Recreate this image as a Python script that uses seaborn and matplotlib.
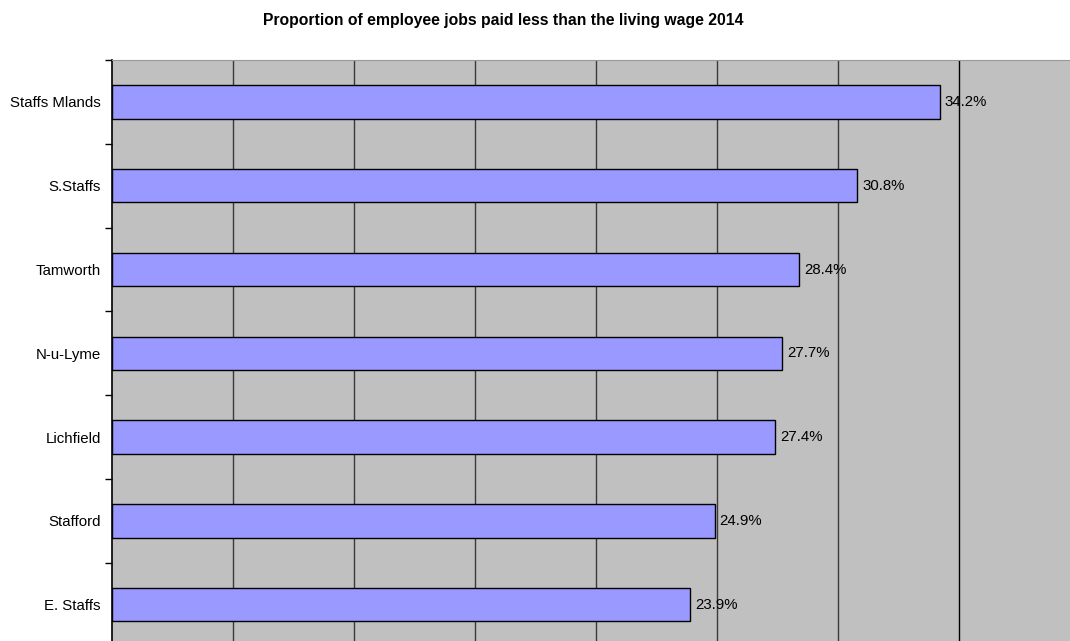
import matplotlib
matplotlib.use("Agg")
import matplotlib.pyplot as plt
import seaborn as sns
import pandas as pd
import numpy as np

# values
areas = ["Staffs Mlands", "S.Staffs", "Tamworth", "N-u-Lyme", "Lichfield", "Stafford", "E. Staffs"]
pct = [34.2, 30.8, 28.4, 27.7, 27.4, 24.9, 23.9]

df = pd.DataFrame({"area": areas, "pct": pct})

sns.set_style("white")
plt.rcParams['font.family'] = ['Liberation Sans', 'DejaVu Sans']
plt.rcParams['text.color'] = 'black'
plt.rcParams['ytick.labelcolor'] = 'black'

fig = plt.figure(figsize=(10.7, 6.41), dpi=100)
ax = fig.add_axes([112 / 1070, 1 - 646.6 / 641, 968 / 1070, 586.6 / 641])
ax.set_facecolor("#C0C0C0")

sns.barplot(data=df, x="pct", y="area", orient="h", color="#9999FF",
            saturation=1, width=0.4, edgecolor="black", linewidth=1, ax=ax, zorder=3)

ax.set_xlim(0, 40)
ax.set_ylim(len(areas) - 0.5, -0.5)

# vertical gridlines every 5%
for xv in range(5, 40, 5):
    ax.axvline(xv, color="#3a3a3a" if xv != 35 else "black", lw=1, zorder=1)

for i, v in enumerate(pct):
    ax.text(v + 0.2, i, f"{v:.1f}%", va="center", ha="left", fontsize=10.8,
            color="black", zorder=4)

ax.set_xticks([])
ax.set_yticks(range(len(areas)))
ax.set_yticklabels(areas, fontsize=10.8, color="black")
ax.set_yticks(np.arange(-0.5, len(areas), 1), minor=True)
ax.tick_params(axis="y", which="major", length=0, pad=8)
ax.tick_params(axis="y", which="minor", length=5, width=1, color="black", direction="out", left=True)
ax.set_xlabel("")
ax.set_ylabel("")

ax.spines["left"].set_color("black")
ax.spines["left"].set_linewidth(1.2)
ax.spines["top"].set_color("#999999")
ax.spines["right"].set_visible(False)
ax.spines["bottom"].set_visible(False)

fig.text(503 / 1070, 1 - 21 / 641, "Proportion of employee jobs paid less than the living wage 2014",
         ha="center", va="center", fontsize=11.3, fontweight="bold", color="black")

fig.savefig("out.png", dpi=100)
